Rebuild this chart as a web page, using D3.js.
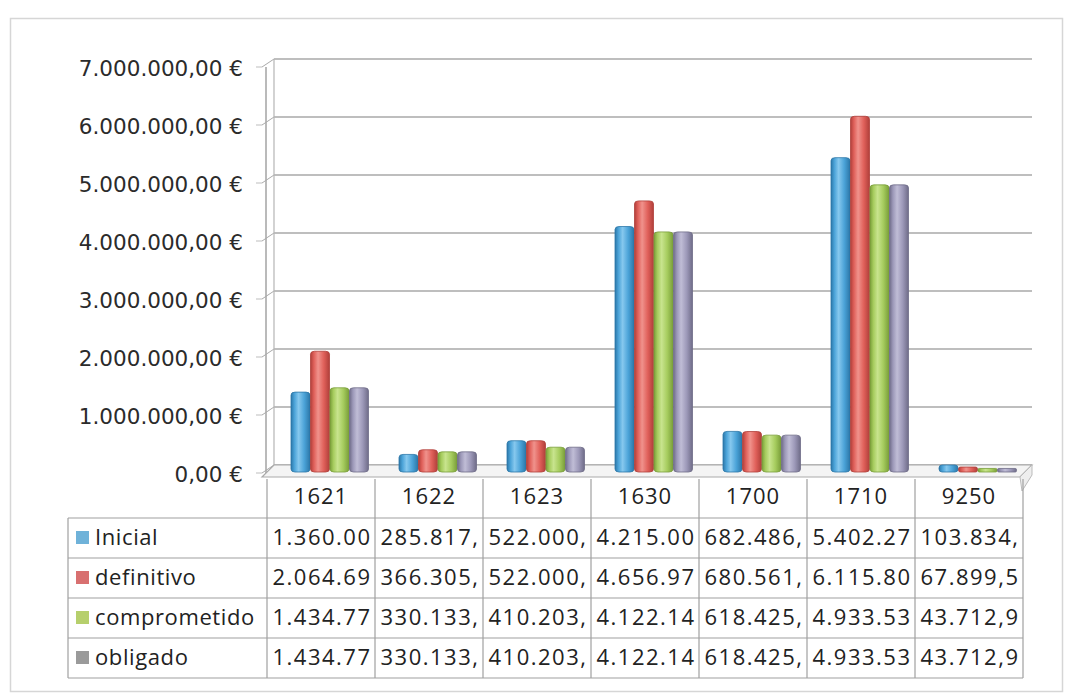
<!DOCTYPE html>
<html>
<head>
<meta charset="utf-8">
<script src="https://cdn.jsdelivr.net/npm/d3@7"></script>
<style>
  html, body { margin: 0; padding: 0; background: #fff; }
  svg { display: block; }
</style>
</head>
<body>
<svg id="chart" width="1066" height="698"></svg>
<script>
// ---------- data ----------
const categories = ["1621", "1622", "1623", "1630", "1700", "1710", "9250"];
const seriesNames = ["Inicial", "definitivo", "comprometido", "obligado"];
const inicial      = [1360000, 285817, 522000, 4215000, 682486, 5402270, 103834];
const definitivo   = [2064690, 366305, 522000, 4656970, 680561, 6115800, 67899.5];
const comprometido = [1434770, 330133, 410203, 4122140, 618425, 4933530, 43712.9];
const obligado     = [1434770, 330133, 410203, 4122140, 618425, 4933530, 43712.9];
// table cell texts as printed (truncated in the original)
const inicialText      = ["1.360.00", "285.817,", "522.000,", "4.215.00", "682.486,", "5.402.27", "103.834,"];
const definitivoText   = ["2.064.69", "366.305,", "522.000,", "4.656.97", "680.561,", "6.115.80", "67.899,5"];
const comprometidoText = ["1.434.77", "330.133,", "410.203,", "4.122.14", "618.425,", "4.933.53", "43.712,9"];
const obligadoText     = ["1.434.77", "330.133,", "410.203,", "4.122.14", "618.425,", "4.933.53", "43.712,9"];
const yTicks = [0, 1000000, 2000000, 3000000, 4000000, 5000000, 6000000, 7000000];
const yTickLabels = ["0,00 €", "1.000.000,00 €", "2.000.000,00 €", "3.000.000,00 €", "4.000.000,00 €", "5.000.000,00 €", "6.000.000,00 €", "7.000.000,00 €"];

const seriesValues = [inicial, definitivo, comprometido, obligado];
const seriesTexts = [inicialText, definitivoText, comprometidoText, obligadoText];
const colors = [
  {base: "#4ba3d8", dark: "#2c77a8", light: "#86c8ee", key: "#6fb2d9"},
  {base: "#e0605a", dark: "#b03f3a", light: "#f0928c", key: "#d87070"},
  {base: "#a6cc5e", dark: "#7a9e3a", light: "#c8e48e", key: "#b6cf6c"},
  {base: "#9c98b8", dark: "#6f6c88", light: "#c0bdd6", key: "#9a9a9a"}
];

// ---------- layout ----------
const svg = d3.select("#chart");
const y = d3.scaleLinear().domain([0, 7000000]).range([471, 65]);
const x = d3.scaleBand().domain(categories).range([267, 1023]).padding(0);
const xs = d3.scaleBand().domain(seriesNames).range([24, 24 + 4 * 19.5]).padding(0);
const backDy = -6;
const wallLeft = 274, wallRight = 1032;
const tableLeft = 68;
const rowTop = 518, rowH = 40;

// outer border
svg.append("rect").attr("x", 10.5).attr("y", 18.5).attr("width", 1052).attr("height", 673)
  .attr("fill", "none").attr("stroke", "#d6d6d6").attr("stroke-width", 1.5);

// defs: gradients for bars
const defs = svg.append("defs");
colors.forEach((c, i) => {
  const g = defs.append("linearGradient").attr("id", "grad" + i)
    .attr("x1", "0%").attr("x2", "100%").attr("y1", "0%").attr("y2", "0%");
  g.append("stop").attr("offset", "0%").attr("stop-color", c.dark);
  g.append("stop").attr("offset", "18%").attr("stop-color", c.base);
  g.append("stop").attr("offset", "40%").attr("stop-color", c.light);
  g.append("stop").attr("offset", "70%").attr("stop-color", c.base);
  g.append("stop").attr("offset", "100%").attr("stop-color", c.dark);
});

// back wall gridlines
const grid = svg.append("g");
yTicks.forEach(t => {
  const yy = y(t) + backDy;
  grid.append("line").attr("x1", wallLeft).attr("x2", wallRight)
    .attr("y1", yy).attr("y2", yy).attr("stroke", "#a9a9a9").attr("stroke-width", 1.6);
  grid.append("line").attr("x1", 262).attr("y1", y(t) + 2).attr("x2", wallLeft).attr("y2", yy)
    .attr("stroke", "#a9a9a9").attr("stroke-width", 1);
  grid.append("line").attr("x1", 256).attr("x2", 262).attr("y1", y(t) + 2).attr("y2", y(t) + 2)
    .attr("stroke", "#bdbdbd").attr("stroke-width", 1);
});
grid.append("line").attr("x1", wallLeft).attr("x2", wallLeft)
  .attr("y1", y(7000000) + backDy).attr("y2", y(0) + backDy).attr("stroke", "#b5b5b5").attr("stroke-width", 1.2);
grid.append("line").attr("x1", 266).attr("x2", 266)
  .attr("y1", y(7000000) + 2).attr("y2", y(0) + 6).attr("stroke", "#a9a9a9").attr("stroke-width", 1.6);

// floor
const floorG = svg.append("g");
floorG.append("path")
  .attr("d", `M262,${y(0) + 6} L${wallLeft},${y(0) + backDy} L${wallRight},${y(0) + backDy} L1020,${y(0) + 6} Z`)
  .attr("fill", "#f4f4f4").attr("stroke", "#a9a9a9").attr("stroke-width", 1.2);
floorG.append("path")
  .attr("d", `M1020,${y(0) + 6} L${wallRight},${y(0) + backDy} L${wallRight},${y(0) + backDy + 10} L1022,${y(0) + 20} Z`)
  .attr("fill", "#eeeeee").attr("stroke", "#bbbbbb").attr("stroke-width", 1);

// y-axis labels
svg.append("g").selectAll("text").data(yTicks).join("text")
  .attr("x", 243).attr("y", d => y(d) + 5)
  .attr("text-anchor", "end").attr("dominant-baseline", "middle")
  .attr("font-family", "DejaVu Sans, Verdana, sans-serif").attr("font-size", 21.5)
  .attr("fill", "#2b2b2b")
  .text((d, i) => yTickLabels[i]);

// bars
const barsG = svg.append("g");
categories.forEach((cat, ci) => {
  seriesNames.forEach((s, si) => {
    const v = seriesValues[si][ci];
    const bx = x(cat) + xs(s);
    const bw = xs.bandwidth() - 0.5;
    const top = y(v);
    const h = Math.max(y(0) - top, 2);
    barsG.append("rect")
      .attr("x", bx).attr("y", y(0) - h).attr("width", bw).attr("height", h + 1)
      .attr("rx", Math.min(4, h / 2)).attr("ry", Math.min(3, h / 2))
      .attr("fill", `url(#grad${si})`)
      .attr("stroke", colors[si].dark).attr("stroke-width", 0.8);
  });
});

// ---------- data table ----------
const table = svg.append("g");
const bounds = categories.map(c => x(c)).concat([x.range()[1]]);
bounds.forEach(bx => {
  table.append("line").attr("x1", bx).attr("x2", bx).attr("y1", y(0) + 8).attr("y2", rowTop + 4 * rowH)
    .attr("stroke", "#a0a0a0").attr("stroke-width", 1.2);
});
table.append("line").attr("x1", tableLeft).attr("x2", tableLeft).attr("y1", rowTop).attr("y2", rowTop + 4 * rowH)
  .attr("stroke", "#a0a0a0").attr("stroke-width", 1.2);
for (let r = 0; r <= 4; r++) {
  table.append("line").attr("x1", tableLeft).attr("x2", x.range()[1])
    .attr("y1", rowTop + r * rowH).attr("y2", rowTop + r * rowH)
    .attr("stroke", "#a0a0a0").attr("stroke-width", 1.2);
}
const fontT = "'Open Sans', Lato, sans-serif";
table.selectAll("text.cat").data(categories).join("text").attr("class", "cat")
  .attr("x", d => x(d) + x.bandwidth() / 2).attr("y", 498)
  .attr("text-anchor", "middle").attr("dominant-baseline", "middle")
  .attr("font-family", fontT).attr("font-size", 22).attr("letter-spacing", 1)
  .attr("fill", "#222").text(d => d);

seriesNames.forEach((s, si) => {
  const cy = rowTop + si * rowH + rowH / 2;
  table.append("rect").attr("x", 76).attr("y", cy - 7).attr("width", 13).attr("height", 13)
    .attr("fill", colors[si].key);
  table.append("text").attr("x", 95).attr("y", cy + 1)
    .attr("dominant-baseline", "middle")
    .attr("font-family", fontT).attr("font-size", 22).attr("letter-spacing", 0.6)
    .attr("fill", "#222").text(s);
  categories.forEach((cat, ci) => {
    table.append("text").attr("x", x(cat) + x.bandwidth() / 2 + 1).attr("y", cy + 1)
      .attr("text-anchor", "middle").attr("dominant-baseline", "middle")
      .attr("font-family", fontT).attr("font-size", 22).attr("letter-spacing", 1.5)
      .attr("fill", "#222").text(seriesTexts[si][ci]);
  });
});
</script>
</body>
</html>
